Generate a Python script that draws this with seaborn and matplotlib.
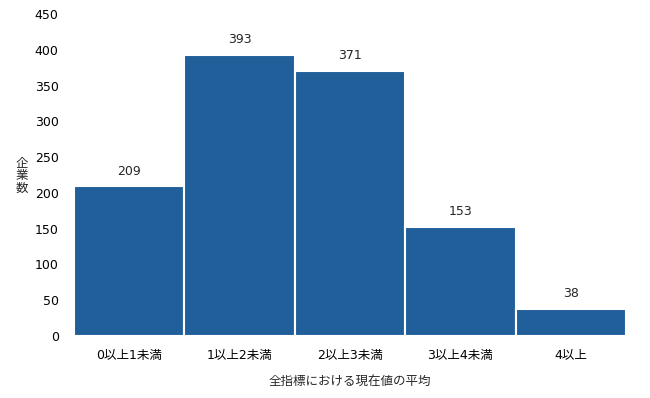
import matplotlib
matplotlib.use("Agg")
import matplotlib.pyplot as plt
import seaborn as sns
import pandas as pd

categories = ["0以上1未満", "1以上2未満", "2以上3未満", "3以上4未満", "4以上"]
counts = [209, 393, 371, 153, 38]
yticks = [0, 50, 100, 150, 200, 250, 300, 350, 400, 450]

sns.set_theme(style="white")
plt.rcParams['font.family'] = ['DejaVu Sans', 'Noto Sans CJK JP']

df = pd.DataFrame({"cat": categories, "n": counts})

fig = plt.figure(figsize=(6.5, 3.98), dpi=100)
ax = fig.add_axes([74/650, 1-336/398, (626-74)/650, (336-14)/398])
sns.barplot(data=df, x="cat", y="n", ax=ax, color="#215F9A", saturation=1,
            width=1.0, edgecolor="white", linewidth=1.5)
ax.set_xlim(-0.5, 4.5)
ax.set_ylim(0, 450)
ax.set_yticks(yticks)
ax.tick_params(axis="both", labelsize=9, colors="#000000", length=0)
ax.tick_params(axis="y", pad=11)
ax.tick_params(axis="x", pad=9)
for s in ax.spines.values():
    s.set_visible(False)
for c in ax.containers:
    ax.bar_label(c, padding=6, fontsize=9)
ax.set_xlabel("全指標における現在値の平均", fontsize=9, labelpad=10)
ax.set_ylabel("")
fig.text(22/650, 1-176/398, "企\n業\n数", fontsize=9, ha="center", va="center",
         linespacing=0.95)
fig.savefig("out.png", dpi=100)
